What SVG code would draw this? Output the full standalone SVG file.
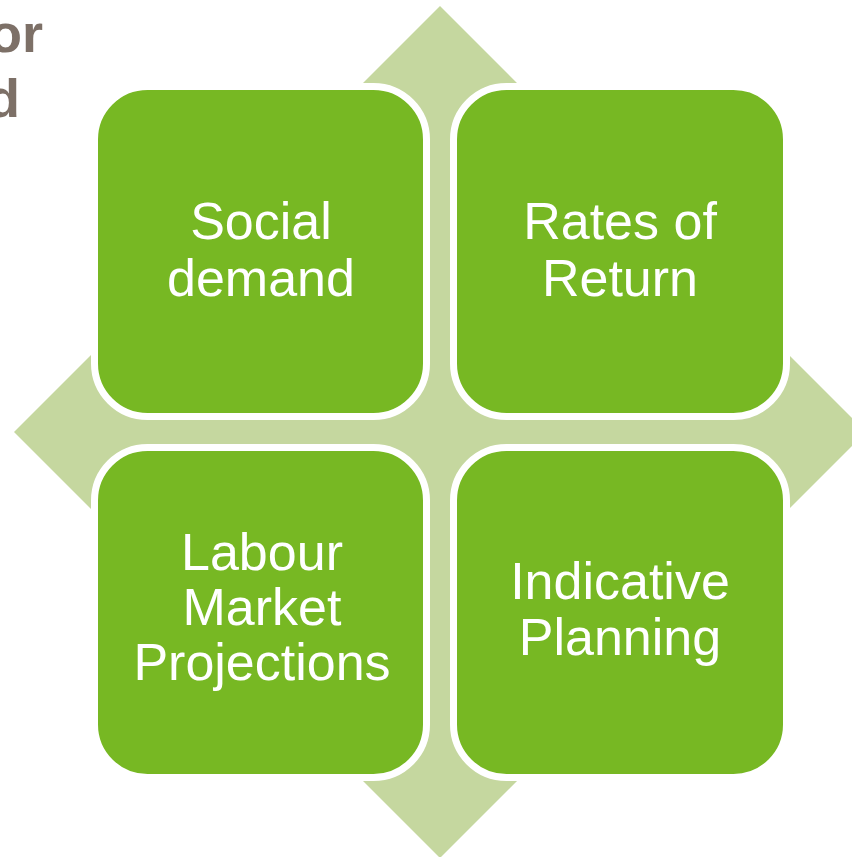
<svg xmlns="http://www.w3.org/2000/svg" width="852" height="857" viewBox="0 0 852 857">
  <style>
    .bg { fill: #c5d79f; }
    .box { fill: #77b823; stroke: #ffffff; stroke-width: 7; }
    .label { font-family: "Liberation Sans", Arial, sans-serif; font-size: 52px; fill: #ffffff; text-anchor: middle; }
    .title { font-family: "Liberation Sans", Arial, sans-serif; font-size: 54px; font-weight: bold; fill: #7d7067; text-anchor: end; }
  </style>
  <rect width="852" height="857" fill="#ffffff"/>

  <!-- partially visible heading -->
  <g id="heading">
    <text class="title" x="43" y="52">or</text>
    <text class="title" x="20" y="117">d</text>
  </g>

  <!-- four-way arrow behind the matrix -->
  <g id="connectors">
    <polygon class="bg" points="440,6 518,84 518,354 788,354 866,432 788,510 518,510 518,780 440,858 362,780 362,510 92,510 14,432 92,354 362,354 362,84"/>
  </g>

  <g id="social-demand">
    <rect class="box" x="94.5" y="86.5" width="332" height="330" rx="53" ry="53"/>
    <text class="label" x="261" y="239">Social</text>
    <text class="label" x="261" y="296">demand</text>
  </g>

  <g id="rates-of-return">
    <rect class="box" x="453.5" y="86.5" width="333" height="330" rx="53" ry="53"/>
    <text class="label" x="620" y="239">Rates of</text>
    <text class="label" x="620" y="296">Return</text>
  </g>

  <g id="labour-market-projections">
    <rect class="box" x="94.5" y="447.5" width="332" height="330" rx="53" ry="53"/>
    <text class="label" x="262" y="570">Labour</text>
    <text class="label" x="262" y="625">Market</text>
    <text class="label" x="262" y="680">Projections</text>
  </g>

  <g id="indicative-planning">
    <rect class="box" x="453.5" y="447.5" width="333" height="330" rx="53" ry="53"/>
    <text class="label" x="620" y="599">Indicative</text>
    <text class="label" x="620" y="655">Planning</text>
  </g>
</svg>
